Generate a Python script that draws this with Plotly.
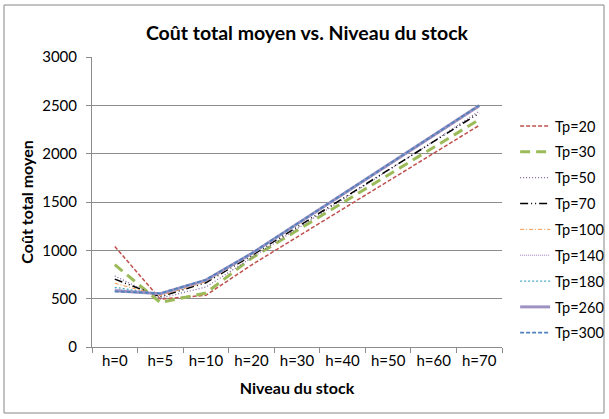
import plotly.graph_objects as go

categories = ["h=0", "h=5", "h=10", "h=20", "h=30", "h=40", "h=50", "h=60", "h=70"]

tp20 = [1040, 495, 535, 848, 1137, 1426, 1715, 2004, 2293]
tp30 = [852, 460, 558, 918, 1205, 1492, 1779, 2066, 2352]
tp50 = [735, 505, 620, 920, 1222, 1524, 1826, 2128, 2440]
tp70 = [702, 520, 665, 945, 1240, 1535, 1830, 2125, 2420]
tp100 = [660, 530, 675, 958, 1263, 1568, 1873, 2178, 2483]
tp140 = [600, 540, 685, 962, 1268, 1574, 1880, 2186, 2490]
tp180 = [618, 545, 688, 964, 1270, 1576, 1882, 2188, 2494]
tp260 = [582, 552, 692, 966, 1273, 1579, 1885, 2191, 2497]
tp300 = [575, 555, 695, 968, 1275, 1581, 1887, 2193, 2499]

series_names = ["Tp=20", "Tp=30", "Tp=50", "Tp=70", "Tp=100", "Tp=140", "Tp=180", "Tp=260", "Tp=300"]
series_values = [tp20, tp30, tp50, tp70, tp100, tp140, tp180, tp260, tp300]

styles = [
    dict(color="#C0504D", width=1.5, dash="4px,2px"),
    dict(color="#9BBB59", width=3, dash="10px,6px"),
    dict(color="#8064A2", width=1.25, dash="1px,2px"),
    dict(color="#000000", width=1.5, dash="8px,3px,1px,3px,1px,3px"),
    dict(color="#F79646", width=1, dash="4px,2px,1px,2px"),
    dict(color="#7D5FA8", width=0.8, dash="1px,1px"),
    dict(color="#4BACC6", width=1.25, dash="2px,2px"),
    dict(color="#9E92C2", width=3, dash="solid"),
    dict(color="#4F81BD", width=1.75, dash="4px,2px"),
]

FONT = "Lato"
fig = go.Figure()
for name, vals, st in zip(series_names, series_values, styles):
    fig.add_trace(go.Scatter(
        x=categories, y=vals, mode="lines", name=name,
        legendgroup=name, line=st,
    ))

grid_col = "#8C8C8C"
fig.update_layout(
    width=609, height=419,
    margin=dict(l=92, r=107, t=57, b=72, autoexpand=False),
    paper_bgcolor="white", plot_bgcolor="white",
    font=dict(family=FONT, size=15, color="#000000"),
    title=dict(text="<b>Coût total moyen vs. Niveau du stock</b>",
               x=0.504, xanchor="center", y=1 - 33 / 419, yanchor="middle",
               font=dict(family=FONT, size=19.5, color="#000000")),
    showlegend=True,
    legend=dict(x=1.032, xanchor="left", y=(347 - 110) / 290, yanchor="top",
                font=dict(family=FONT, size=14.5), tracegroupgap=4,
                bgcolor="rgba(0,0,0,0)", itemwidth=30),
    xaxis=dict(
        type="category", showgrid=False, showline=True, linecolor=grid_col,
        ticks="outside", ticklen=5, tickcolor=grid_col, tickson="boundaries",
        tickfont=dict(family=FONT, size=15), tickangle=0,
        title=dict(text="<b>Niveau du stock</b>", font=dict(family=FONT, size=16), standoff=14),
        range=[-0.5, 8.5], fixedrange=True,
    ),
    yaxis=dict(
        range=[0, 3000], dtick=500, showgrid=True, gridcolor=grid_col, gridwidth=1,
        showline=True, linecolor=grid_col, ticks="outside", ticklen=5, tickcolor=grid_col,
        tickfont=dict(family=FONT, size=15), ticklabelstandoff=6, zeroline=False,
        title=dict(text="<b>Coût total moyen</b>", font=dict(family=FONT, size=16), standoff=4),
    ),
    shapes=[dict(type="rect", xref="paper", yref="paper",
                 x0=(4 - 92) / 410, x1=(604 - 92) / 410,
                 y0=(347 - 413) / 290, y1=(347 - 5) / 290,
                 line=dict(color="#868686", width=1), layer="below")],
)

fig.write_html("out.html", config={"displayModeBar": False},
               post_script="document.body.style.margin='0';")
